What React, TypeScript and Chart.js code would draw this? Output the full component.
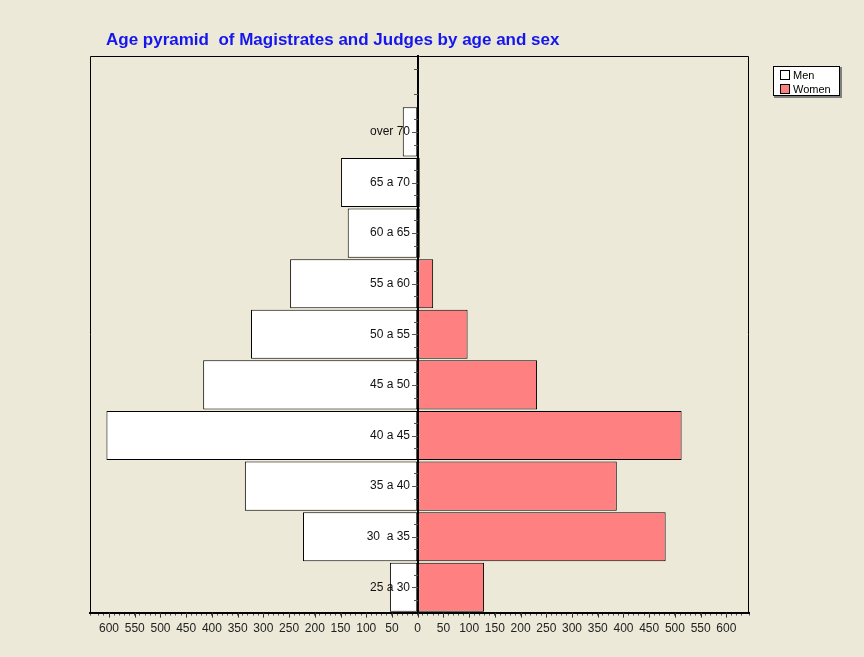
import React, { useEffect, useRef } from "react";
import { Chart, registerables } from "chart.js";

Chart.register(...registerables);

const categories = ["over 70", "65 a 70", "60 a 65", "55 a 60", "50 a 55", "45 a 50", "40 a 45", "35 a 40", "30  a 35", "25 a 30"];
const men = [29, 149, 136, 248, 324, 417, 605, 336, 223, 54];
const women = [0, 4, 4, 30, 97, 232, 513, 387, 482, 129];
const titleText = "Age pyramid  of Magistrates and Judges by age and sex";
const xMin = -637;
const xMax = 644;

const BG = "#ECE9D8";
const FONT = "'Liberation Sans', Arial, sans-serif";

const decorPlugin = {
  id: "decor",
  afterDraw(chart: any) {
    const { ctx, chartArea, scales } = chart;
    const xs = scales.x;
    const ys = scales.y;
    const x0 = Math.round(xs.getPixelForValue(0));
    ctx.save();
    // frame
    ctx.strokeStyle = "#000";
    ctx.lineWidth = 1;
    ctx.beginPath();
    ctx.moveTo(Math.round(chartArea.left) + 0.5, Math.round(chartArea.bottom));
    ctx.lineTo(Math.round(chartArea.left) + 0.5, Math.round(chartArea.top) + 0.5);
    ctx.lineTo(Math.round(chartArea.right) - 0.5, Math.round(chartArea.top) + 0.5);
    ctx.lineTo(Math.round(chartArea.right) - 0.5, Math.round(chartArea.bottom));
    ctx.stroke();

    // y ticks and labels
    const labels = chart.data.labels as string[];
    const step = ys.getPixelForValue(1) - ys.getPixelForValue(0);
    ctx.strokeStyle = "#555";
    ctx.lineWidth = 1;
    for (let i = 0; i < labels.length; i++) {
      const yc = ys.getPixelForValue(i);
      ctx.beginPath();
      [-0.25, 0.25].forEach((f) => {
        const y = Math.round(yc + f * step) + 0.5;
        ctx.moveTo(x0 - 4, y);
        ctx.lineTo(x0, y);
      });
      if (labels[i]) {
        const y = Math.round(yc) + 0.5;
        ctx.moveTo(x0 - 6, y);
        ctx.lineTo(x0, y);
      }
      ctx.stroke();
    }
    ctx.fillStyle = "#111";
    ctx.font = `12px ${FONT}`;
    ctx.textAlign = "right";
    ctx.textBaseline = "middle";
    for (let i = 0; i < labels.length; i++) {
      if (!labels[i]) continue;
      ctx.fillText(labels[i], x0 - 8, ys.getPixelForValue(i));
    }

    // longer x ticks at every labelled value
    ctx.strokeStyle = "#333";
    ctx.beginPath();
    xs.ticks.forEach((t: any) => {
      if (Math.round(t.value) % 50 === 0) {
        const x = Math.round(xs.getPixelForValue(t.value)) + 0.5;
        ctx.moveTo(x, chartArea.bottom);
        ctx.lineTo(x, chartArea.bottom + 5);
      }
    });
    ctx.stroke();

    // title
    ctx.fillStyle = "#1515EE";
    ctx.font = `bold 17px ${FONT}`;
    ctx.textAlign = "left";
    ctx.textBaseline = "alphabetic";
    ctx.fillText(titleText, chartArea.left + 16, 45);

    // legend
    const lx = Math.round(chartArea.right) + 24;
    const ly = 66;
    const lw = 67;
    const lh = 30;
    ctx.fillStyle = "#808080";
    ctx.fillRect(lx + 1, ly + 1, lw + 1, lh + 1);
    ctx.fillStyle = "#fff";
    ctx.fillRect(lx, ly, lw, lh);
    ctx.strokeStyle = "#000";
    ctx.strokeRect(lx + 0.5, ly + 0.5, lw - 1, lh - 1);
    ctx.font = `11px ${FONT}`;
    ctx.textBaseline = "middle";
    chart.data.datasets.forEach((ds: any, i: number) => {
      const sy = ly + 4 + i * 14;
      ctx.fillStyle = ds.backgroundColor;
      ctx.fillRect(lx + 7, sy, 10, 10);
      ctx.strokeStyle = "#000";
      ctx.strokeRect(lx + 7.5, sy + 0.5, 9, 9);
      ctx.fillStyle = "#000";
      ctx.fillText(ds.label, lx + 20, sy + 5.5);
    });
    ctx.restore();
  },
};

export default function App() {
  const ref = useRef<HTMLCanvasElement | null>(null);
  useEffect(() => {
    document.body.style.margin = "0";
    if (!ref.current) return;
    const chart = new Chart(ref.current, {
      type: "bar",
      data: {
        labels: ["", ...categories],
        datasets: [
          {
            label: "Men",
            data: [null, ...men.map((v) => -v)],
            backgroundColor: "#FFFFFF",
            borderColor: "#000",
            borderWidth: 1,
            borderSkipped: false,
            barPercentage: 0.97,
            categoryPercentage: 1,
          },
          {
            label: "Women",
            data: [null, ...women],
            backgroundColor: "#FF8080",
            borderColor: "#000",
            borderWidth: 1,
            borderSkipped: false,
            barPercentage: 0.97,
            categoryPercentage: 1,
          },
        ],
      },
      options: {
        indexAxis: "y",
        animation: false,
        responsive: true,
        maintainAspectRatio: false,
        layout: { padding: { left: 90, right: 115, top: 56, bottom: 15 } },
        plugins: {
          legend: { display: false },
          title: { display: false },
          tooltip: { enabled: false },
        },
        scales: {
          x: {
            stacked: true,
            min: xMin,
            max: xMax,
            ticks: {
              stepSize: 10,
              autoSkip: false,
              maxRotation: 0,
              minRotation: 0,
              padding: 6,
              color: "#222",
              font: { family: "Liberation Sans", size: 12 },
              callback: (v: any) => {
                const n = Math.round(Number(v));
                return n % 50 === 0 ? String(Math.abs(n)) : "";
              },
            },
            grid: {
              drawOnChartArea: false,
              tickLength: 3,
              tickColor: "#555",
            },
            border: { display: true, color: "#000", width: 2 },
          },
          y: {
            stacked: true,
            position: { x: 0 } as any,
            z: 1,
            ticks: { display: false },
            grid: { drawOnChartArea: false, drawTicks: false },
            border: { display: true, color: "#000", width: 2 },
          },
        },
      },
      plugins: [decorPlugin],
    });
    return () => chart.destroy();
  }, []);
  return (
    <div style={{ width: 864, height: 657, background: BG, position: "relative" }}>
      <canvas ref={ref} />
    </div>
  );
}
